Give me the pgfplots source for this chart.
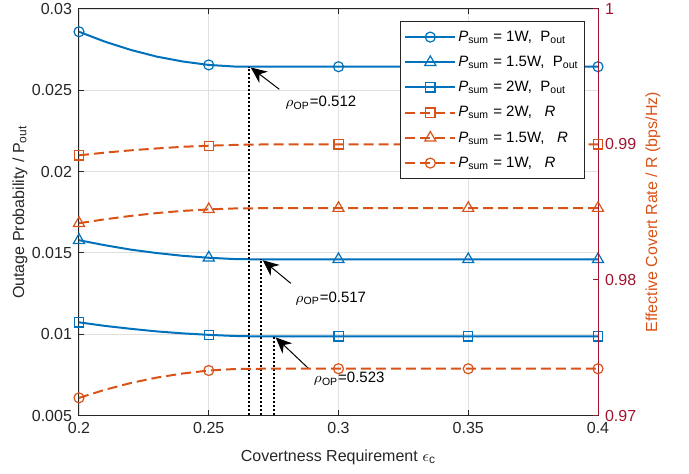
\documentclass[border=0pt]{standalone}
\usepackage{fontspec}
\setmainfont{Liberation Sans}
\usepackage{pgfplots}
\usepackage{pgfplotstable}
\pgfplotsset{compat=1.18}
\usetikzlibrary{arrows.meta}
\definecolor{mblue}{RGB}{0,114,189}
\definecolor{morange}{RGB}{217,83,25}
\definecolor{mred}{RGB}{162,20,47}
\definecolor{maxis}{RGB}{38,38,38}

% outage probability (left axis) and effective covert rate (right axis)
\pgfplotstableread{
x    p1      p15     p2      r2      r15     r1
0.20 0.02860 0.01578 0.01073 0.98920 0.98419 0.97130
0.21 0.02799 0.01547 0.01051 0.98940 0.98448 0.97190
0.22 0.02748 0.01520 0.01033 0.98957 0.98473 0.97240
0.23 0.02707 0.01499 0.01017 0.98971 0.98494 0.97280
0.24 0.02677 0.01482 0.01005 0.98983 0.98510 0.97310
0.25 0.02656 0.01470 0.00996 0.98991 0.98521 0.97332
0.26 0.02646 0.01462 0.00989 0.98997 0.98528 0.97343
0.27 0.02645 0.01460 0.00986 0.99000 0.98530 0.97345
0.28 0.02645 0.01460 0.00986 0.99000 0.98530 0.97345
0.30 0.02645 0.01460 0.00986 0.99000 0.98530 0.97345
0.35 0.02645 0.01460 0.00986 0.99000 0.98530 0.97345
0.40 0.02645 0.01460 0.00986 0.99000 0.98530 0.97345
}\data

\pgfplotsset{
  mystyle/.style={
    width=259.5pt, height=203.25pt, scale only axis,
    xmin=0.2, xmax=0.4,
    tick align=inside, major tick length=2.5pt,
    tick label style={font=\fontsize{8}{9}\selectfont},
    label style={font=\fontsize{8}{9}\selectfont},
  },
  bline/.style={mblue, line width=1pt, mark indices={1,6,10,11,12}, mark options={solid, line width=0.6pt}},
  rline/.style={morange, line width=1pt, dash pattern=on 5pt off 2.5pt, mark indices={1,6,10,11,12}, mark options={solid, line width=0.6pt}},
}

\begin{document}
\begin{tikzpicture}
\useasboundingbox (-39.5pt,-29.25pt) rectangle (305pt,207.75pt);
\begin{axis}[
    mystyle,
    ymin=0.005, ymax=0.03,
    xtick={0.2,0.25,0.3,0.35,0.4},
    xticklabels={0.2,0.25,0.3,0.35,0.4},
    ytick={0.005,0.01,0.015,0.02,0.025,0.03},
    yticklabels={0.005,0.01,0.015,0.02,0.025,0.03},
    ytick pos=left, xtick pos=both,
    grid=major,
    major grid style={draw=black!12, line width=0.4pt},
    axis line style={draw=maxis, line width=0.5pt},
    tick style={draw=maxis, line width=0.5pt},
    tick label style={text=maxis},
    xlabel={Covertness Requirement $\epsilon$\textsubscript{c}},
    ylabel={Outage Probability / P\textsubscript{out}},
    xlabel style={at={(axis description cs:0.5,-0.102)}, anchor=center, text=maxis},
    ylabel style={at={(axis description cs:-0.1137,0.5)}, anchor=center, text=maxis},
]
\addplot[bline, mark=o, mark size=2.5pt] table[x=x, y=p1] {\data};
\addplot[bline, mark=triangle, mark size=3.2pt] table[x=x, y=p15] {\data};
\addplot[bline, mark=square, mark size=2.3pt] table[x=x, y=p2] {\data};

% optimal power split markers
\draw[black, line width=1pt, dash pattern=on 1pt off 1pt] (axis cs:0.2655,0.005) -- (axis cs:0.2655,0.02645);
\draw[black, line width=1pt, dash pattern=on 1pt off 1pt] (axis cs:0.2703,0.005) -- (axis cs:0.2703,0.01460);
\draw[black, line width=1pt, dash pattern=on 1pt off 1pt] (axis cs:0.2753,0.005) -- (axis cs:0.2753,0.00986);

\draw[black, line width=0.5pt, -{Stealth[length=8pt, width=7pt, inset=2.5pt]}] (axis cs:0.2772,0.02506) -- (axis cs:0.2662,0.02640);
\draw[black, line width=0.5pt, -{Stealth[length=8pt, width=7pt, inset=2.5pt]}] (axis cs:0.2816,0.01313) -- (axis cs:0.2708,0.01455);
\draw[black, line width=0.5pt, -{Stealth[length=8pt, width=7pt, inset=2.5pt]}] (axis cs:0.2884,0.00790) -- (axis cs:0.2758,0.00980);

\node[anchor=west, inner sep=0pt, font=\fontsize{7.5}{8.5}\selectfont] at (axis cs:0.2794,0.02422) {$\rho$\textsubscript{OP}=0.512};
\node[anchor=west, inner sep=0pt, font=\fontsize{7.5}{8.5}\selectfont] at (axis cs:0.2832,0.01220) {$\rho$\textsubscript{OP}=0.517};
\node[anchor=west, inner sep=0pt, font=\fontsize{7.5}{8.5}\selectfont] at (axis cs:0.2903,0.00724) {$\rho$\textsubscript{OP}=0.523};
\end{axis}

\begin{axis}[
    mystyle,
    ymin=0.97, ymax=1,
    axis y line*=right, axis x line=none,
    ytick={0.97,0.98,0.99,1},
    yticklabels={0.97,0.98,0.99,1},
    y axis line style={draw=mred, line width=0.5pt},
    ytick style={draw=mred, line width=0.5pt},
    yticklabel style={text=mred},
    ylabel={Effective Covert Rate / R (bps/Hz)},
    ylabel style={at={(axis description cs:1.106,0.5)}, anchor=center, text=morange},
    legend cell align=left,
    legend image code/.code={\draw[mark repeat=2,mark phase=2] plot coordinates {(0pt,0pt)(12.5pt,0pt)(25pt,0pt)};},
    legend style={at={(0.975,0.970)}, anchor=north east, draw=maxis, line width=0.5pt, fill=white,
        font=\fontsize{7.5}{8.5}\selectfont, inner xsep=2pt, inner ysep=2pt, row sep=1.2pt,
        nodes={text height=6.8pt, text depth=2.6pt, inner sep=1pt}},
]
\addplot[rline, mark=square, mark size=2.3pt, forget plot] table[x=x, y=r2] {\data};
\addplot[rline, mark=triangle, mark size=3.2pt, forget plot] table[x=x, y=r15] {\data};
\addplot[rline, mark=o, mark size=2.5pt, forget plot] table[x=x, y=r1] {\data};

\addlegendimage{mblue, line width=1pt, mark=o, mark size=2.5pt, mark options={solid, line width=0.6pt}}
\addlegendentry{\textit{P}\textsubscript{sum} = 1W,\ \ P\textsubscript{out}}
\addlegendimage{mblue, line width=1pt, mark=triangle, mark size=3.2pt, mark options={solid, line width=0.6pt}}
\addlegendentry{\textit{P}\textsubscript{sum} = 1.5W,\ \ P\textsubscript{out}}
\addlegendimage{mblue, line width=1pt, mark=square, mark size=2.3pt, mark options={solid, line width=0.6pt}}
\addlegendentry{\textit{P}\textsubscript{sum} = 2W,\ \ P\textsubscript{out}}
\addlegendimage{morange, line width=1pt, dash pattern=on 5pt off 2.5pt, mark=square, mark size=2.3pt, mark options={solid, line width=0.6pt}}
\addlegendentry{\textit{P}\textsubscript{sum} = 2W,\ \ \ \textit{R}}
\addlegendimage{morange, line width=1pt, dash pattern=on 5pt off 2.5pt, mark=triangle, mark size=3.2pt, mark options={solid, line width=0.6pt}}
\addlegendentry{\textit{P}\textsubscript{sum} = 1.5W,\ \ \ \textit{R}}
\addlegendimage{morange, line width=1pt, dash pattern=on 5pt off 2.5pt, mark=o, mark size=2.5pt, mark options={solid, line width=0.6pt}}
\addlegendentry{\textit{P}\textsubscript{sum} = 1W,\ \ \ \textit{R}}
\end{axis}
\end{tikzpicture}
\end{document}
